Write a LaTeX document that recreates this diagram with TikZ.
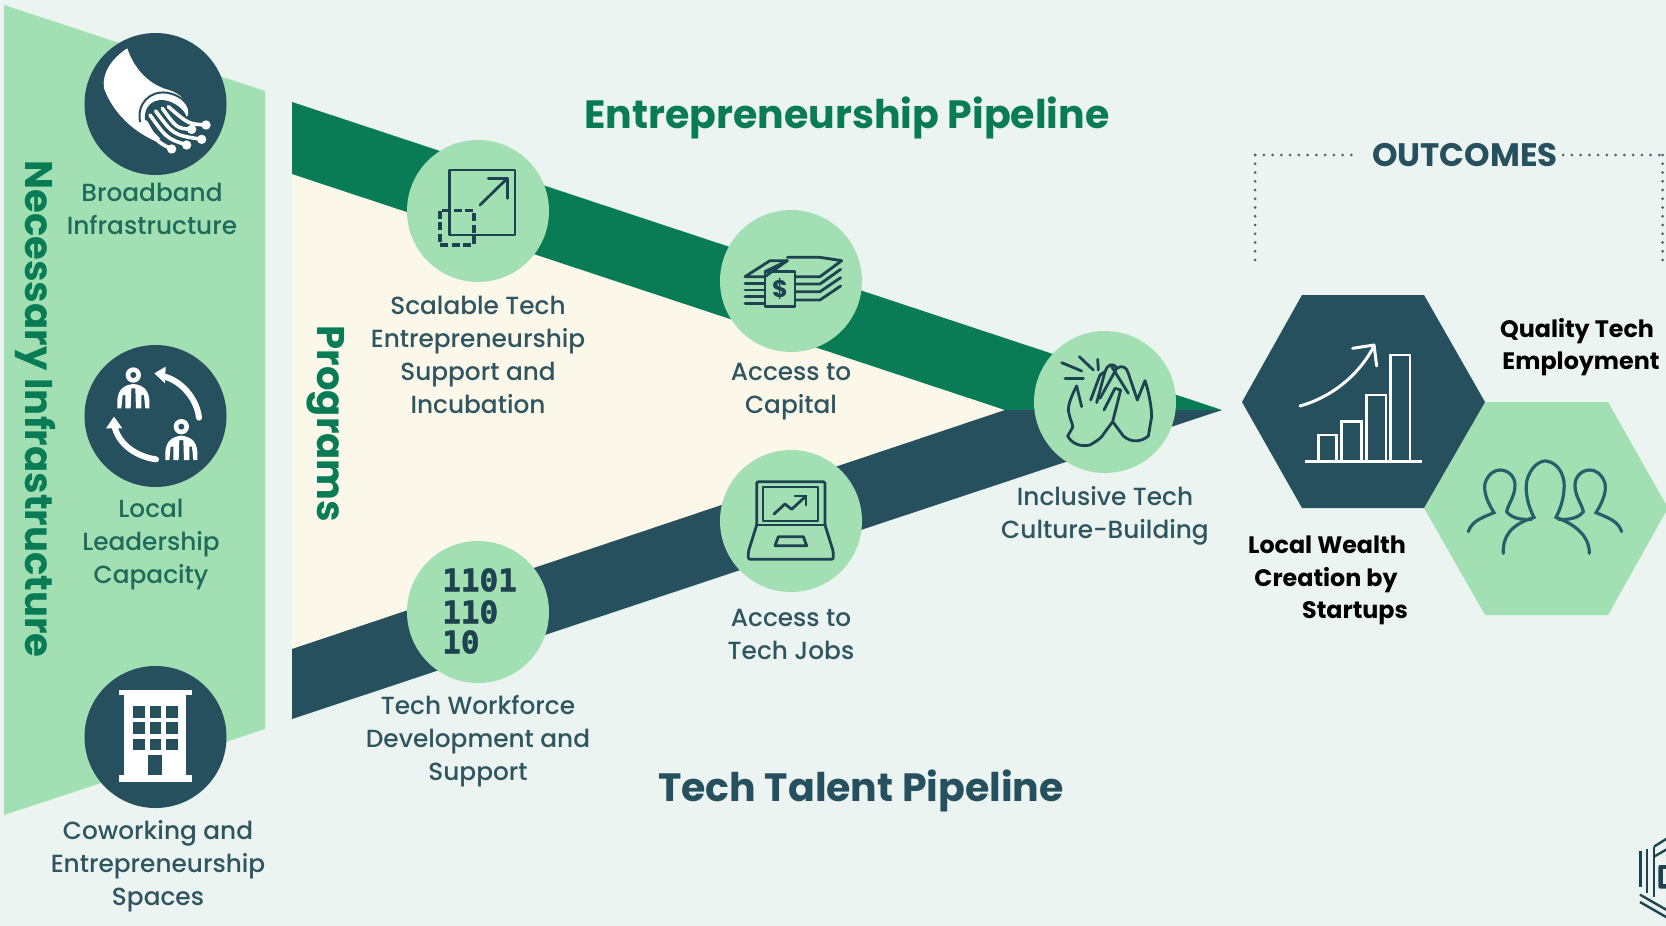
\documentclass[tikz,border=0pt]{standalone}
\usepackage{fontspec}
\setmainfont{Poppins Medium}[BoldFont={Poppins Bold}]
\newfontfamily\monobold{DejaVu Sans Mono}[BoldFont={DejaVu Sans Mono Bold},BoldFeatures={FakeBold=1.6}]
\definecolor{bgc}{HTML}{EBF4F0}
\definecolor{lgreen}{HTML}{A2E0B4}
\definecolor{dgreen}{HTML}{097C55}
\definecolor{teal}{HTML}{26505E}
\definecolor{creamc}{HTML}{FBF8EA}
\definecolor{inkc}{HTML}{1D4350}
\definecolor{labc}{HTML}{2F5560}
\definecolor{bandc}{HTML}{1F6B5A}
\definecolor{peoplec}{HTML}{26606A}
\definecolor{dotc}{HTML}{4F6263}
\tikzset{
 x=1pt,y=-1pt,
 zm/.style 2 args={xshift=#1pt,yshift=-#2pt,x=0.33333pt,y=-0.33333pt},
 darkdisc/.style={circle,fill=teal,minimum size=142pt,inner sep=0},
 lightdisc/.style={circle,fill=lgreen,minimum size=142pt,inner sep=0},
 lab/.style={align=center,inner sep=0,text=labc,font=\fontsize{24.8}{33}\selectfont},
 bandlab/.style={lab,text=bandc},
 blacklab/.style={inner sep=0,text=black,font=\fontsize{23.8}{33}\selectfont\bfseries},
 bigtitle/.style={inner sep=0,font=\fontsize{39.5}{44}\selectfont\bfseries},
 sidetitle/.style={inner sep=0,text=dgreen,rotate=-90,font=\fontsize{38.6}{44}\selectfont\bfseries},
 icon/.style={draw=inkc,line width=2.8pt,line cap=round,line join=round},
 whiteicon/.style={draw=white,line width=2.6pt,line join=miter},
 binary/.style={inner sep=0,anchor=west,text=inkc,font=\monobold\fontsize{31}{30}\selectfont\bfseries},
 dotted line/.style={draw=dotc,line width=3pt,line cap=round,dash pattern=on 0pt off 8.75pt},
}
\begin{document}
\begin{tikzpicture}
\useasboundingbox (0,0) rectangle (1666,926);
\clip (0,0) rectangle (1666,926);
\fill[bgc] (0,0) rectangle (1666,926);
% infrastructure band
\fill[lgreen] (4,5) -- (265,91) -- (265,729) -- (4,815) -- cycle;
% funnel
\fill[creamc] (292,170) -- (1010,410) -- (292,652) -- cycle;
\fill[dgreen] (292,102) -- (1222,410) -- (1005,410) -- (292,174) -- cycle;
\fill[teal] (292,719) -- (1222,410) -- (1005,410) -- (292,649) -- cycle;
% discs
\node[darkdisc] (d1) at (155.5,104) {};
\node[darkdisc] (d2) at (155.5,416) {};
\node[darkdisc] (d3) at (155.5,737) {};
\node[lightdisc] (c1) at (478,211) {};
\node[lightdisc] (c2) at (791,281) {};
\node[lightdisc] (c3) at (478,612) {};
\node[lightdisc] (c4) at (791,521) {};
\node[lightdisc] (c5) at (1105,402) {};
% hexagons
\fill[lgreen] (1424,508) -- (1485,402) -- (1608,402) -- (1668,508) -- (1608,615) -- (1485,615) -- cycle;
\fill[teal] (1242,402) -- (1302,295) -- (1424,295) -- (1485,402) -- (1424,508) -- (1302,508) -- cycle;
% cable icon
\begin{scope}[zm={0}{0}]
\fill[white] (382,145) .. controls (400,200) and (440,250) .. (500,268) .. controls (545,280) and (570,310) .. (565,345) -- (470,425) .. controls (400,395) and (340,340) .. (312,265) .. controls (305,220) and (335,175) .. (382,145) -- cycle;
\draw[teal,line width=2pt,line cap=round] (420,365) .. controls (410,310) and (450,272) .. (500,278) .. controls (545,285) and (572,315) .. (568,345);
\fill[teal] (438,372) .. controls (425,330) and (450,298) .. (490,300) .. controls (525,305) and (555,330) .. (560,352) -- (600,420) -- (520,455) -- cycle;
\foreach \a/\b/\c/\d/\tx/\ty in {505/320/565/372/618/375, 487/325/530/385/575/388, 467/333/520/405/605/418, 450/345/500/415/560/435, 437/365/470/425/515/447}{
 \draw[white,line width=3.6pt,line cap=round] (\a,\b) .. controls (\c,\d) .. (\tx,\ty);
 \fill[white] (\tx,\ty) circle (14);
}
\end{scope}
% people cycle icon
\begin{scope}[zm={0}{320}]
\foreach \dx/\dy in {0/0,144/155}{
\begin{scope}[xshift=\dx*0.33333pt,yshift=-\dy*0.33333pt]
\fill[white] (400,165) circle (23);
\fill[teal] (400,165) circle (9);
\fill[white] (352,265) -- (352,240) .. controls (355,205) and (375,195) .. (400,192) .. controls (425,195) and (445,205) .. (448,240) -- (448,265) -- (436,265) -- (432,225) -- (424,225) -- (424,265) -- (408,265) -- (406,205) -- (394,205) -- (392,265) -- (376,265) -- (376,225) -- (368,225) -- (364,265) -- cycle;
\end{scope}}
\draw[white,line width=6pt,line cap=round] (597,293) .. controls (590,235) and (545,185) .. (495,170);
\fill[white] (463,160) -- (497,140) -- (495,190) -- cycle;
\draw[white,line width=6pt,line cap=round] (468,418) .. controls (410,410) and (360,375) .. (345,325);
\fill[white] (342,290) -- (318,325) -- (367,325) -- cycle;
\end{scope}
% building icon
\begin{scope}[zm={0}{640}]
\fill[white] (358,150) rectangle (575,166);
\fill[white] (373,166) rectangle (557,405);
\fill[white] (358,405) rectangle (575,425);
\foreach \cx in {400,449,498}\foreach \cy in {198,247,296}{\fill[teal] (\cx,\cy) rectangle (\cx+35,\cy+35);}
\fill[teal] (445,345) rectangle (487,405);
\end{scope}
% scale icon
\begin{scope}[zm={390}{130}]
\draw[icon] (178,120) rectangle (375,315);
\draw[icon] (270,225) -- (352,145);
\draw[icon] (295,145) -- (352,145) -- (352,205);
\draw[icon,line width=3.2pt,line cap=butt,dash pattern=on 8pt off 3.5pt] (150,242) rectangle (252,345);
% money icon
\draw[icon] (1065,440) -- (1140,392) -- (1192,392) -- (1125,440) -- cycle;
\draw[icon] (1192,382) -- (1290,382) -- (1355,392) -- (1290,440) -- (1215,440);
\draw[icon] (1192,392) -- (1125,425);
\foreach \yy in {460,480,500,520}{\draw[icon] (1065,\yy) -- (1125,\yy);}
\draw[icon] (1218,462) -- (1290,462) -- (1352,418);
\draw[icon] (1218,485) -- (1290,485) -- (1352,443);
\draw[icon] (1218,510) -- (1290,510) -- (1352,468);
\draw[icon] (1125,425) rectangle (1215,530);
\node[inner sep=0,text=inkc,font=\fontsize{24}{24}\selectfont\bfseries] (dollar) at (1170,477) {\$};
% laptop icon (same origin offset 300 px lower)
\begin{scope}[yshift=-300pt]
\draw[icon,rounded corners=2pt] (1100,285) -- (1100,155) -- (1305,155) -- (1305,285);
\draw[icon,line width=2.2pt] (1118,172) rectangle (1285,272);
\draw[icon] (1100,285) -- (1305,285);
\draw[icon,rounded corners=2pt] (1100,285) -- (1075,365) -- (1075,388) -- (1330,388) -- (1330,365) -- (1305,285);
\draw[icon] (1165,320) -- (1240,320) -- (1250,347) -- (1155,347) -- cycle;
\draw[icon] (1152,252) -- (1185,222) -- (1205,238) -- (1248,198);
\draw[icon] (1215,198) -- (1248,198) -- (1248,225);
\end{scope}
\end{scope}
% binary digits
\node[binary] (b1) at (442,580) {1101};
\node[binary] (b2) at (442,612) {110};
\node[binary] (b3) at (442,642) {10};
% hands icon
\begin{scope}[zm={1000}{310}]
\draw[icon] (185,158) -- (245,183);
\draw[icon] (238,140) -- (280,180);
\draw[icon] (293,148) -- (295,180);
\draw[icon] (195,205) -- (250,205);
\draw[icon] (245,290) -- (230,228) .. controls (218,250) and (205,280) .. (205,300) .. controls (208,325) and (220,345) .. (218,352) -- (203,378) .. controls (215,400) and (240,412) .. (270,405) .. controls (285,395) and (300,390) .. (312,370) -- (338,335) -- (362,240) -- (345,235) -- (312,300);
\draw[icon] (272,270) -- (300,195) -- (315,185) -- (290,278);
\draw[icon] (315,185) .. controls (320,165) and (340,155) .. (350,175) -- (300,265);
\draw[icon] (350,175) .. controls (365,165) and (380,170) .. (385,190) -- (412,270) -- (435,212) .. controls (445,240) and (455,290) .. (455,320) -- (445,378) .. controls (425,395) and (395,400) .. (370,378) -- (338,335);
\draw[icon] (335,170) -- (385,250);
\end{scope}
% chart icon
\begin{scope}[zm={1220}{280}]
\draw[whiteicon] (255,544) -- (605,544);
\draw[whiteicon] (295,544) -- (295,465) -- (350,465) -- (350,544);
\draw[whiteicon] (365,544) -- (365,425) -- (425,425) -- (425,544);
\draw[whiteicon] (440,544) -- (440,345) -- (498,345) -- (498,544);
\draw[whiteicon] (512,544) -- (512,225) -- (570,225) -- (570,544);
\draw[white,line width=3pt,line cap=round] (240,378) .. controls (340,350) and (420,280) .. (462,198);
\draw[white,line width=3pt,line cap=round,line join=round] (398,205) -- (462,195) -- (470,258);
% people icon
\draw[peoplec,line width=3.2pt,line cap=round] (850,820) .. controls (848,770) and (870,735) .. (942,712) .. controls (925,680) and (915,640) .. (920,605) .. controls (930,560) and (960,543) .. (975,543) .. controls (995,543) and (1025,560) .. (1032,605) .. controls (1035,640) and (1025,680) .. (1008,712) .. controls (1070,735) and (1108,770) .. (1108,820);
\draw[peoplec,line width=3.2pt,line cap=round] (745,755) .. controls (755,725) and (780,715) .. (822,698) .. controls (805,670) and (790,640) .. (795,610) .. controls (805,580) and (825,570) .. (840,570) .. controls (865,570) and (885,590) .. (885,615) .. controls (885,650) and (865,670) .. (860,695) .. controls (875,715) and (905,720) .. (935,718);
\draw[peoplec,line width=3.2pt,line cap=round] (1205,755) .. controls (1195,725) and (1170,715) .. (1128,698) .. controls (1145,670) and (1160,640) .. (1155,610) .. controls (1145,580) and (1125,570) .. (1110,570) .. controls (1085,570) and (1065,590) .. (1065,615) .. controls (1065,650) and (1085,670) .. (1090,695) .. controls (1075,715) and (1045,720) .. (1015,718);
\end{scope}
% logo
\begin{scope}[zm={1560}{800}]
\draw[inkc,line width=2.4pt] (242,152) -- (242,262);
\draw[inkc,line width=2.4pt] (261,148) -- (261,278);
\draw[inkc,line width=2.4pt] (282,140) -- (282,290);
\draw[inkc,line width=2.4pt] (282,140) -- (320,116);
\draw[inkc,line width=2.4pt] (282,170) -- (320,148);
\draw[inkc,line width=2.4pt] (240,284) -- (320,330);
\draw[inkc,line width=2.4pt] (240,306) -- (320,352);
\fill[inkc,rounded corners=2pt] (295,195) rectangle (325,266);
\fill[bgc] (310,208) rectangle (325,252);
\end{scope}
% dotted bracket
\draw[dotted line] (1255,155) -- (1355,155);
\draw[dotted line] (1255,155) -- (1255,261);
\draw[dotted line] (1563,155) -- (1664,155);
\draw[dotted line] (1662.5,155) -- (1662.5,261);
% labels
\node[bandlab] (l1) at (152,209) {Broadband\\Infrastructure};
\node[bandlab] (l2) at (151,545) {Local\\Leadership\\Capacity};
\node[lab] (l3) at (158,866) {Coworking and\\Entrepreneurship\\Spaces};
\node[lab] (l4) at (478,355) {Scalable Tech\\Entrepreneurship\\Support and\\Incubation};
\node[lab] (l5) at (791,392) {Access to\\Capital};
\node[lab] (l6) at (478,741) {Tech Workforce\\Development and\\Support};
\node[lab] (l7) at (791,634) {Access to\\Tech Jobs};
\node[lab] (l8) at (1105,516) {Inclusive Tech\\Culture-Building};
\node[bigtitle,text=dgreen] (t1) at (847,118) {Entrepreneurship Pipeline};
\node[bigtitle,text=teal] (t2) at (861,791) {Tech Talent Pipeline};
\node[sidetitle] (t3) at (36,409) {Necessary Infrastructure};
\node[sidetitle] (t4) at (326,424) {Programs};
\node[inner sep=0,text=teal,font=\fontsize{32.5}{33}\selectfont\bfseries] (t5) at (1465,155) {OUTCOMES};
\node[blacklab] (q1) at (1577,331) {Quality Tech};
\node[blacklab] (q2) at (1581,364) {Employment};
\node[blacklab] (w1) at (1327,545) {Local Wealth};
\node[blacklab] (w2) at (1326,580) {Creation by};
\node[blacklab] (w3) at (1355,613) {Startups};
\end{tikzpicture}
\end{document}
